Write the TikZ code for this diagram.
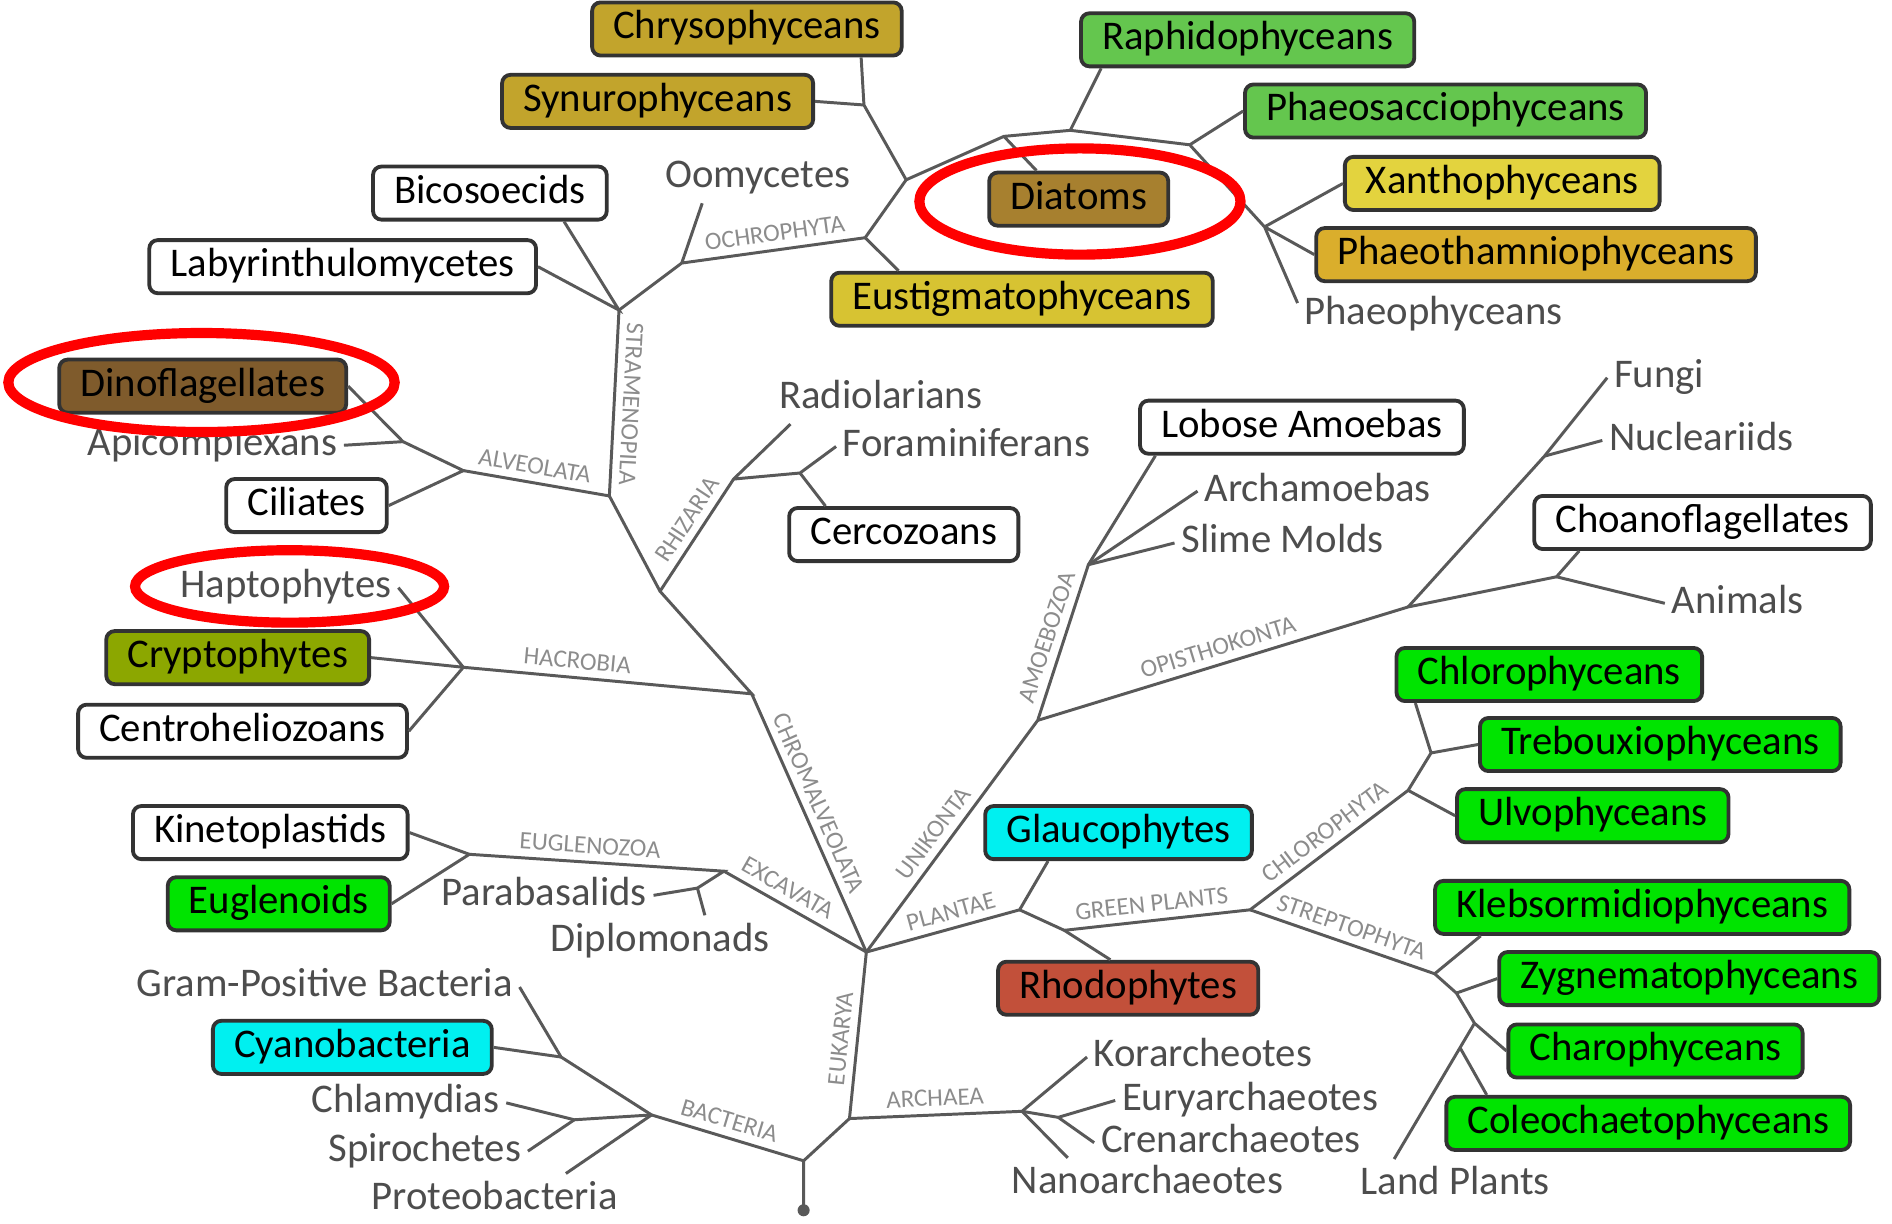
\documentclass[tikz,border=0pt]{standalone}
\usepackage{fontspec}
\setmainfont{Carlito}
\usepackage{tikz}
\usetikzlibrary{calc}
\definecolor{chry}{HTML}{C2A42C}
\definecolor{raph}{HTML}{64C64E}
\definecolor{xant}{HTML}{E3D33E}
\definecolor{ptham}{HTML}{DAAE2C}
\definecolor{diat}{HTML}{A7802F}
\definecolor{eust}{HTML}{D7C332}
\definecolor{dino}{HTML}{7F5B2C}
\definecolor{crypt}{HTML}{8CA700}
\definecolor{lgreen}{HTML}{00E400}
\definecolor{cyanb}{HTML}{00F0F0}
\definecolor{rhod}{HTML}{C2503A}
\definecolor{ln}{HTML}{595959}
\definecolor{txt}{HTML}{4D4D4D}
\definecolor{capc}{HTML}{8C8C8C}
\definecolor{bdr}{HTML}{333333}

\begin{document}
\begin{tikzpicture}[x=0.01cm,y=-0.01cm,every node/.style={font=\fontsize{9.6}{11}\selectfont},
box/.style={draw=bdr,fill=white,line width=.9pt,rounded corners=2pt,inner xsep=.175cm,inner ysep=0pt,minimum height=.44cm,text height=.24cm,text depth=.075cm},
lbl/.style={text=txt,inner sep=.05cm,text height=.24cm,text depth=.075cm},
br/.style={draw=ln,line width=.7pt},
cl/.style={sloped,above,text=capc,font=\fontsize{5.9}{7}\selectfont,inner sep=.06cm},
ring/.style={draw=red,line width=2.4pt}]
\useasboundingbox (0,0) rectangle (1568,1014);
\node[box,fill=chry] (chry) at (619,24) {Chrysophyceans};\node[box,fill=chry] (synu) at (545,84) {Synurophyceans};
\node[box,fill=raph] (raph) at (1034,33) {Raphidophyceans};\node[box,fill=raph] (phsac) at (1198,92) {Phaeosacciophyceans};
\node[box,fill=xant] (xant) at (1245,152) {Xanthophyceans};\node[box,fill=ptham] (ptham) at (1273,211) {Phaeothamniophyceans};
\node[box,fill=diat] (diat) at (894,165) {Diatoms};\node[box,fill=eust] (eust) at (847,248) {Eustigmatophyceans};
\node[box] (bico) at (406,160) {Bicosoecids};\node[box] (laby) at (284,221) {Labyrinthulomycetes};
\node[box,fill=dino] (dino) at (168,320) {Dinoflagellates};\node[box] (cili) at (254,419) {Ciliates};
\node[box,fill=crypt] (crypt) at (197,545) {Cryptophytes};\node[box] (centr) at (201,606) {Centroheliozoans};
\node[box] (kine) at (224,690) {Kinetoplastids};\node[box,fill=lgreen] (eugl) at (231,749) {Euglenoids};
\node[box,fill=cyanb] (cyano) at (292,868) {Cyanobacteria};\node[box] (cerc) at (749,443) {Cercozoans};
\node[box] (lobo) at (1079,354) {Lobose Amoebas};\node[box] (choa) at (1411,433) {Choanoflagellates};
\node[box,fill=lgreen] (chlo) at (1284,559) {Chlorophyceans};\node[box,fill=lgreen] (treb) at (1376,617) {Trebouxiophyceans};
\node[box,fill=lgreen] (ulvo) at (1320,676) {Ulvophyceans};\node[box,fill=cyanb] (glau) at (927,690) {Glaucophytes};
\node[box,fill=rhod] (rhod) at (935,819) {Rhodophytes};\node[box,fill=lgreen] (kleb) at (1361,752) {Klebsormidiophyceans};
\node[box,fill=lgreen] (zygn) at (1400,811) {Zygnematophyceans};\node[box,fill=lgreen] (charo) at (1372,871) {Charophyceans};
\node[box,fill=lgreen] (coleo) at (1366,931) {Coleochaetophyceans};
\node[lbl] (oomy) at (628,147) {Oomycetes};\node[lbl] (phaeo) at (1188,261) {Phaeophyceans};
\node[lbl] (radi) at (730,330) {Radiolarians};\node[lbl] (fora) at (801,370) {Foraminiferans};
\node[lbl] (apic) at (176,369) {Apicomplexans};\node[lbl] (hapt) at (237,487) {Haptophytes};
\node[lbl] (fung) at (1375,313) {Fungi};\node[lbl] (nucl) at (1410,365) {Nucleariids};
\node[lbl] (archa) at (1092,407) {Archamoebas};\node[lbl] (slime) at (1063,450) {Slime Molds};
\node[lbl] (anim) at (1440,500) {Animals};\node[lbl] (para) at (451,742) {Parabasalids};
\node[lbl] (dipl) at (547,780) {Diplomonads};\node[lbl] (gram) at (269,818) {Gram-Positive Bacteria};
\node[lbl] (chla) at (336,914) {Chlamydias};\node[lbl] (spir) at (352,954) {Spirochetes};
\node[lbl] (prot) at (410,994) {Proteobacteria};\node[lbl] (kora) at (997,876) {Korarcheotes};
\node[lbl] (eury) at (1036,912) {Euryarchaeotes};\node[lbl] (cren) at (1020,947) {Crenarchaeotes};
\node[lbl] (nano) at (951,981) {Nanoarchaeotes};\node[lbl] (land) at (1206,982) {Land Plants};
\coordinate (root) at (666,1003);\coordinate (r) at (666,962);\coordinate (e0) at (704,927);\coordinate (euk) at (718,789);
\coordinate (bac) at (540,924);\coordinate (gpn) at (465,876);\coordinate (chn) at (476,928);
\coordinate (arc) at (847,921);\coordinate (arn) at (877,926);
\coordinate (exc) at (600,722);\coordinate (eug) at (389,708);\coordinate (pbn) at (578,736);
\coordinate (hac) at (623,575);\coordinate (hpn) at (384,553);\coordinate (rhz) at (547,490);
\coordinate (rhn) at (608,397);\coordinate (frn) at (663,392);
\coordinate (alv) at (505,411);\coordinate (aln) at (384,390);\coordinate (apn) at (334,366);
\coordinate (str) at (513,257);\coordinate (och) at (565,218);\coordinate (och2) at (717,197);
\coordinate (n3) at (751,149);\coordinate (csn) at (716,87);\coordinate (dtn) at (832,113);
\coordinate (rpn) at (887,108);\coordinate (psn) at (986,120);\coordinate (xtn) at (1048,188);
\coordinate (uni) at (860,597);\coordinate (amb) at (902,468);\coordinate (opi) at (1167,503);
\coordinate (nun) at (1280,378);\coordinate (chn2) at (1290,478);
\coordinate (pla) at (845,754);\coordinate (grn) at (882,771);\coordinate (gpl) at (1036,754);
\coordinate (clp) at (1167,655);\coordinate (trn) at (1186,624);
\coordinate (stp) at (1189,807);\coordinate (zyn) at (1207,823);\coordinate (lpn) at (1222,848);
\draw[br] (root) -- (r) -- (e0) -- node[cl,pos=.47]{EUKARYA} (euk);\fill[ln] (root) circle[radius=.05cm];
\draw[br] (bac) -- node[cl,pos=.48]{BACTERIA} (r);
\draw[br] (bac) -- (gpn) -- (gram.east);\draw[br] (gpn) -- (cyano.east);
\draw[br] (bac) -- (chn) -- (chla.east);\draw[br] (chn) -- (spir.east);\draw[br] (bac) -- (prot.20);
\draw[br] (e0) -- node[cl]{ARCHAEA} (arc) -- (kora.west);\draw[br] (arc) -- (arn) -- (eury.west);
\draw[br] (arn) -- (cren.west);\draw[br] (arc) -- (nano.162);
\draw[br] (exc) -- node[cl,pos=.39]{EXCAVATA} (euk);
\draw[br] (eug) -- node[cl,pos=.47]{EUGLENOZOA} (exc) -- (pbn) -- (para.east);\draw[br] (pbn) -- (dipl.30);
\draw[br] (kine.east) -- (eug) -- (eugl.east);
\draw[br] (hac) -- node[cl,pos=.45]{CHROMALVEOLATA} (euk);
\draw[br] (hpn) -- node[cl,pos=.39]{HACROBIA} (hac) -- (rhz) -- (alv);
\draw[br] (hapt.east) -- (hpn) -- (crypt.east);\draw[br] (hpn) -- (centr.east);
\draw[br] (rhz) -- node[cl,pos=.56]{RHIZARIA} (rhn) -- (radi.196);\draw[br] (rhn) -- (frn) -- (fora.west);\draw[br] (frn) -- (cerc.160);
\draw[br] (aln) -- node[cl,pos=.47]{ALVEOLATA} (alv);
\draw[br] (cili.east) -- (aln) -- (apn) -- (dino.east);\draw[br] (apn) -- (apic.east);
\draw[br] (str) -- node[cl,pos=.5,allow upside down]{STRAMENOPILA} (alv);
\draw[br] (laby.east) -- (str) -- (bico.-21);
\draw[br] (str) -- (och) -- node[cl,pos=.52]{OCHROPHYTA} (och2) -- (n3) -- (csn) -- (chry.-14);\draw[br] (csn) -- (synu.east);
\draw[br] (och) -- (oomy.205);\draw[br] (och2) -- (eust.167);
\draw[br] (n3) -- (dtn) -- (rpn) -- (psn) -- (xtn) -- (phaeo.175);
\draw[br] (dtn) -- (diat.146);\draw[br] (rpn) -- (raph.191);\draw[br] (psn) -- (phsac.west);
\draw[br] (xtn) -- (xant.west);\draw[br] (xtn) -- (ptham.west);
\draw[br] (euk) -- node[cl,pos=.47]{UNIKONTA} (uni) -- node[cl,pos=.5]{AMOEBOZOA} (amb) -- (lobo.191);
\draw[br] (amb) -- (archa.west);\draw[br] (amb) -- (slime.west);
\draw[br] (uni) -- node[cl,pos=.5]{OPISTHOKONTA} (opi) -- (chn2) -- (choa.193);\draw[br] (chn2) -- (anim.west);
\draw[br] (opi) -- (nun) -- (fung.west);\draw[br] (nun) -- (nucl.west);
\draw[br] (euk) -- node[cl,pos=.58]{PLANTAE} (pla) -- (glau.202);\draw[br] (pla) -- (grn) -- (rhod.122);
\draw[br] (grn) -- node[cl,pos=.48]{GREEN PLANTS} (gpl) -- node[cl,pos=.54]{CHLOROPHYTA} (clp) -- (trn) -- (chlo.192);
\draw[br] (clp) -- (ulvo.west);\draw[br] (trn) -- (treb.west);
\draw[br] (gpl) -- node[cl,pos=.52]{STREPTOPHYTA} (stp) -- (zyn) -- (lpn) -- (charo.west);
\draw[br] (stp) -- (kleb.190);\draw[br] (zyn) -- (zygn.west);
\draw[br] (lpn) -- (land.157);\draw[br] ($(lpn)!.18!(land.157)$) -- (coleo.170);
\draw[ring] (895,167) ellipse [x radius=1.33cm,y radius=.44cm];
\draw[ring] (167,317) ellipse [x radius=1.6cm,y radius=.41cm];
\draw[ring] (240,486) ellipse [x radius=1.28cm,y radius=.3cm];
\end{tikzpicture}
\end{document}
